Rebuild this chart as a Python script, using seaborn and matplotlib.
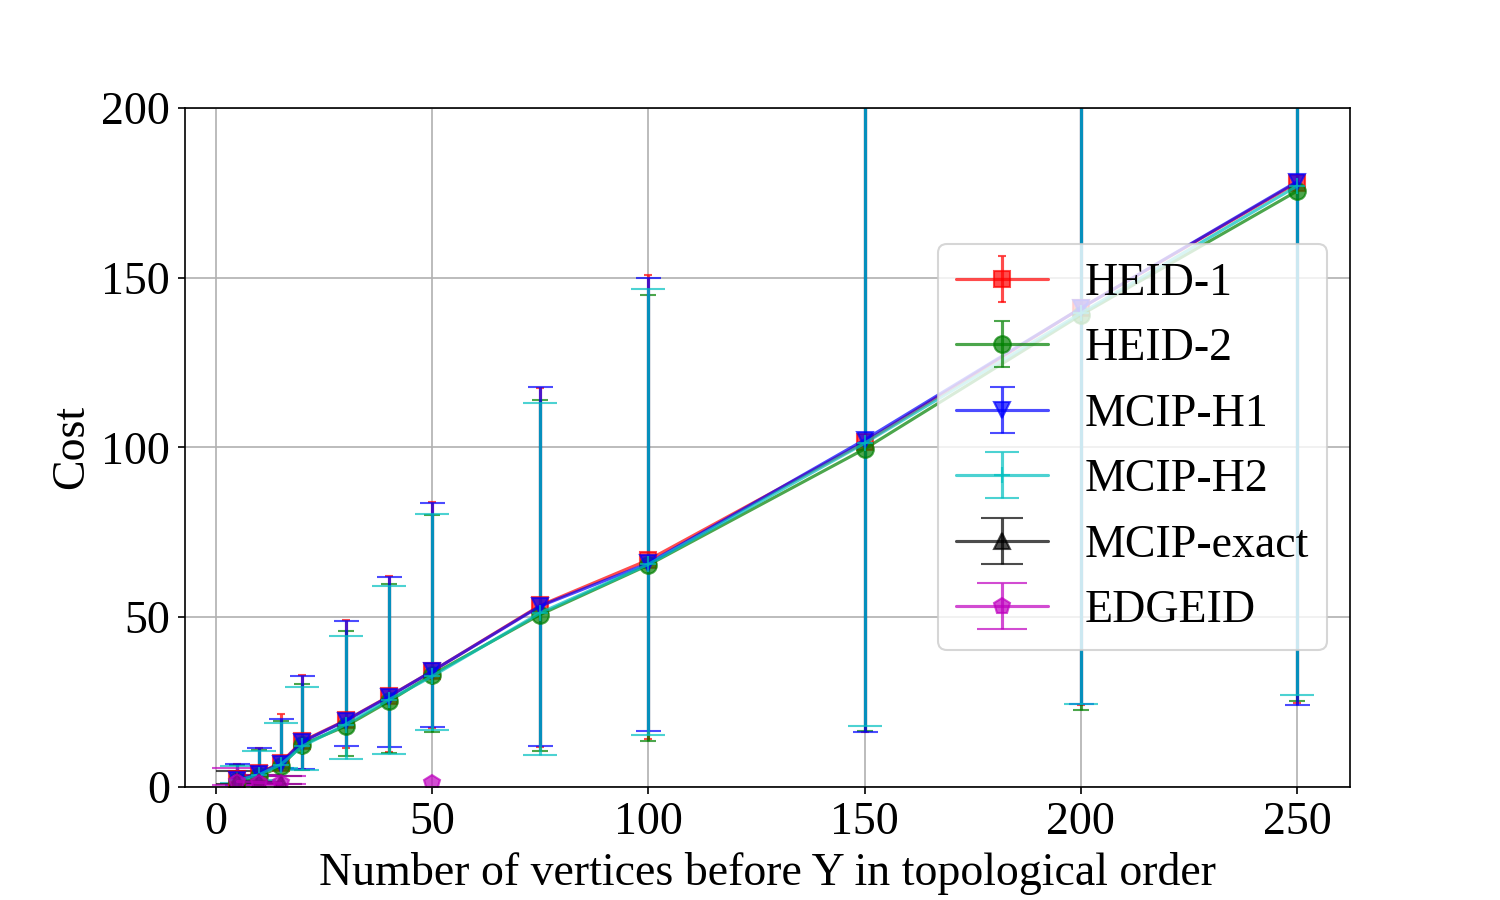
import numpy as np
import seaborn as sns
import matplotlib
matplotlib.use('Agg')
import matplotlib.pyplot as plt

nan = np.nan

# x positions
x = [5, 10, 15, 20, 30, 40, 50, 75, 100, 150, 200, 250]

# HEID-1
heid1_mean = [2.1, 4.0, 7.0, 13.4, 19.5, 26.6, 34.0, 53.4, 66.8, 101.5, 141.0, 178.0]
heid1_up = [6.8, 11.3, 21.5, 33.0, 49.2, 62.1, 84.0, 117.5, 150.8, 260, 260, 260]
heid1_low = [0.5, 1.5, 5.5, 5.3, 11.5, 10.2, 17.3, 11.6, 14.1, 16.2, 24.0, 24.5]

# HEID-2
heid2_mean = [1.6, 3.0, 6.0, 12.4, 17.8, 25.1, 33.0, 50.7, 65.3, 99.5, 139.0, 175.5]
heid2_up = [6.3, 10.8, 19.4, 30.3, 45.8, 59.8, 80.0, 114.0, 144.9, 260, 260, 260]
heid2_low = [0.5, 1.5, 5.5, 4.8, 8.9, 10.0, 16.1, 10.5, 13.3, 16.3, 22.5, 25.2]

# MCIP-H1
h1_mean = [2.0, 3.8, 6.8, 13.2, 19.4, 26.5, 34.0, 53.2, 65.8, 102.2, 141.0, 178.3]
h1_up = [6.8, 11.4, 20.0, 32.5, 48.9, 61.7, 83.6, 117.9, 150.0, 260, 260, 260]
h1_low = [0.5, 1.5, 5.5, 5.3, 11.9, 11.6, 17.5, 11.9, 16.3, 16.0, 24.3, 24.0]

# MCIP-H2
h2_mean = [1.8, 3.5, 6.5, 11.9, 18.3, 25.6, 32.5, 51.2, 65.5, 101.2, 139.5, 177.0]
h2_up = [6.0, 10.4, 18.6, 29.3, 44.3, 59.0, 80.4, 113.2, 146.7, 260, 260, 260]
h2_low = [1.0, 2.0, 5.5, 4.8, 8.0, 9.5, 16.6, 9.4, 15.3, 17.8, 24.3, 27.0]

# MCIP-exact (only small instances)
exact_mean = [1.6, 1.4, 1.2, nan, nan, nan, nan, nan, nan, nan, nan, nan]
exact_up = [4.5, 3.5, 3.0, nan, nan, nan, nan, nan, nan, nan, nan, nan]
exact_low = [0.8, 0.8, 0.9, nan, nan, nan, nan, nan, nan, nan, nan, nan]

# EDGEID
edge_mean = [1.5, 1.2, 1.0, nan, nan, nan, 1.0, nan, nan, nan, nan, nan]
edge_up = [5.6, 3.5, 3.0, nan, nan, nan, nan, nan, nan, nan, nan, nan]
edge_low = [0.5, 0.6, 0.8, nan, nan, nan, nan, nan, nan, nan, nan, nan]

labels = ['HEID-1', 'HEID-2', 'MCIP-H1', 'MCIP-H2', 'MCIP-exact', 'EDGEID']
means = [heid1_mean, heid2_mean, h1_mean, h2_mean, exact_mean, edge_mean]
ups = [heid1_up, heid2_up, h1_up, h2_up, exact_up, edge_up]
lows = [heid1_low, heid2_low, h1_low, h2_low, exact_low, edge_low]
colors = ['#ff0000', '#008000', '#0000ff', '#00bfbf', '#000000', '#bf00bf']
markers = ['s', 'o', 'v', '+', '^', 'p']
capsizes = [2, 4, 6, 8, 10, 12]

sns.set_theme(style='ticks')
plt.rcParams['font.family'] = ['Liberation Serif', 'DejaVu Serif']
plt.rcParams['text.color'] = 'black'
plt.rcParams['axes.labelcolor'] = 'black'
plt.rcParams['xtick.color'] = 'black'
plt.rcParams['ytick.color'] = 'black'

fig, ax = plt.subplots(figsize=(10, 6), dpi=150)
fig.subplots_adjust(left=0.123, right=0.9, bottom=0.126, top=0.88)

for lab, m, up, lo, c, mk, cs in zip(labels, means, ups, lows, colors, markers, capsizes):
    m = np.array(m, dtype=float)
    yerr = [m - np.array(lo, dtype=float), np.array(up, dtype=float) - m]
    ax.errorbar(x, m, yerr=yerr, color=c, marker=mk, markersize=8,
                capsize=cs, alpha=0.7, label=lab, linewidth=1.5)

ax.set_ylim(0, 200)
ax.grid(True, color='#b0b0b0', linewidth=0.8)
for s in ax.spines.values():
    s.set_color('black')
    s.set_linewidth(0.8)
ax.tick_params(labelsize=22, colors='black', length=3.5, width=0.8)
ax.set_xlabel('Number of vertices before Y in topological order', fontsize=22)
ax.set_ylabel('Cost', fontsize=22)
ax.legend(loc='center right', fontsize=22, framealpha=0.8)

fig.savefig('out.png', dpi=150)
